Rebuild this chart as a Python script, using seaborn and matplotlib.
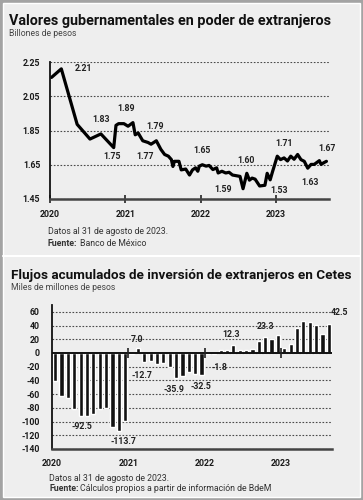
import pandas as pd
import seaborn as sns
import matplotlib.pyplot as plt
from matplotlib.patches import Rectangle

# Valores gubernamentales en poder de extranjeros (billones de pesos)
anios = [2020.02, 2020.15, 2020.36, 2020.53, 2020.675, 2020.845, 2020.875, 2020.91,
         2020.98, 2021.035, 2021.10, 2021.13, 2021.17, 2021.23, 2021.30, 2021.34,
         2021.41, 2021.47, 2021.52, 2021.57, 2021.61, 2021.63, 2021.65, 2021.71,
         2021.74, 2021.80, 2021.85, 2021.89, 2021.93, 2021.96, 2021.98, 2022.02,
         2022.07, 2022.11, 2022.16, 2022.21, 2022.23, 2022.28, 2022.33, 2022.375,
         2022.42, 2022.47, 2022.52, 2022.56, 2022.61, 2022.645, 2022.68, 2022.72,
         2022.78, 2022.85, 2022.88, 2022.92, 2022.95, 2023.014, 2023.057, 2023.104,
         2023.149, 2023.193, 2023.237, 2023.284, 2023.328, 2023.372, 2023.418, 2023.462,
         2023.504, 2023.572, 2023.595, 2023.631, 2023.666]
valores = [2.16, 2.21, 1.886, 1.80, 1.83, 1.75, 1.88, 1.89,
           1.89, 1.875, 1.896, 1.825, 1.835, 1.79, 1.78, 1.77,
           1.79, 1.74, 1.71, 1.70, 1.68, 1.64, 1.67, 1.67,
           1.62, 1.625, 1.59, 1.62, 1.632, 1.612, 1.642, 1.65,
           1.642, 1.646, 1.622, 1.632, 1.602, 1.612, 1.602, 1.606,
           1.59, 1.586, 1.582, 1.51, 1.60, 1.56, 1.572, 1.566,
           1.526, 1.53, 1.60, 1.562, 1.608, 1.70, 1.68, 1.69,
           1.672, 1.70, 1.682, 1.71, 1.68, 1.67, 1.63, 1.652,
           1.652, 1.674, 1.652, 1.662, 1.67]
# puntos con etiqueta
etiq_linea = [1, 4, 5, 8, 15, 16, 31, 40, 44, 49, 59, 62, 68]

# Flujos acumulados de inversion de extranjeros en Cetes (miles de millones), mensual
meses = list(pd.date_range("2020-01-01", periods=44, freq="MS").strftime("%Y-%m"))
flujos = [-41, -63, -65, -82, -92.5, -92, -89, -82, -80, -108, -113.7, -99,
          -2, 7.0, -12.7, -11, -16, -14, -21, -35.9, -34, -28, -30, -32.5,
          -1.5, -1.8, 4, 4.5, 12.3, 4, 4, 6.5, 17, 23.3, 21, 26,
          7, 13, 37, 47, 45, 41, 28, 42.5]
etiq_barras = [4, 10, 13, 14, 19, 23, 25, 28, 33, 43]

# desplazamientos de etiquetas en pixeles (dx, dy)
off_linea = {1: (22, 0), 4: (0, 14), 5: (-2, -9), 8: (2, 15), 15: (-6, -12),
             16: (-1, 14), 31: (0, 14), 40: (-9, -14), 44: (-1, 13), 49: (14, -5),
             59: (-14, 11), 62: (2, -14), 68: (1, 13)}
off_barras = {4: (1, -10), 10: (5, -11), 13: (-1, 9), 14: (-2, -14), 19: (-2, -12),
              23: (-1, -11), 25: (5, -13), 28: (-2, 10), 33: (0, 11), 43: (11, 11)}

sns.set_theme(style="white")
plt.rcParams["font.family"] = ["Roboto", "DejaVu Sans"]
plt.rcParams["axes.unicode_minus"] = False

W, H = 363, 500
fig = plt.figure(figsize=(W / 100, H / 100), dpi=100)
fig.patch.set_facecolor("#a3a3a3")
fig.patches.append(Rectangle((3 / W, 3 / H), 357 / W, 494 / H, transform=fig.transFigure,
                             facecolor="#eeeeee", edgecolor="white", lw=1, zorder=-2))
fig.add_artist(plt.Line2D([3 / W, 360 / W], [1 - 255.5 / H] * 2, color="white", lw=1.5,
                          zorder=-1))
renderer = fig.canvas.get_renderer()

GRIS_TXT = "#333333"


def caja(x0, y0, x1, y1):
    return [x0 / W, 1 - y1 / H, (x1 - x0) / W, (y1 - y0) / H]


def titulo(x, y, s, ancho):
    t = fig.text(x / W, 1 - y / H, s, fontsize=11, fontweight="bold", va="baseline",
                 color="#111111")
    w = t.get_window_extent(renderer).width
    t.set_fontsize(11 * ancho / w)


def texto(x, y, s, color=GRIS_TXT, **kw):
    return fig.text(x / W, 1 - y / H, s, va="baseline", color=color, **kw)


def fuente(x, y, s):
    t = texto(x, y, "Fuente:", fontsize=6.3, fontweight="bold")
    w = t.get_window_extent(renderer).width
    texto(x + w + 2, y, s, fontsize=6.3)


def estilo(ax):
    ax.set_facecolor("none")
    ax.yaxis.grid(True, ls=(0, (1.5, 1.5)), color="#4a4a4a", lw=0.8)
    ax.xaxis.grid(False)
    for lado in ["top", "right"]:
        ax.spines[lado].set_visible(False)
    ax.spines["left"].set_color("#111111")
    ax.spines["left"].set_linewidth(1.3)
    ax.spines["bottom"].set_color("#444444")
    ax.spines["bottom"].set_linewidth(1.8)
    ax.set_xlabel("")
    ax.set_ylabel("")
    for lab in ax.get_xticklabels() + ax.get_yticklabels():
        lab.set_fontweight("bold")
        lab.set_color("#1a1a1a")


# ---- grafica 1
titulo(9, 25, "Valores gubernamentales en poder de extranjeros", 324)
texto(9, 36, "Billones de pesos", fontsize=6.2, color="#444444")

ax1 = fig.add_axes(caja(50, 62, 329, 199))
sns.lineplot(x=anios, y=valores, ax=ax1, color="black", lw=2.3, sort=False,
             estimator=None)
ax1.set_xlim(2020, 2023.70)
ax1.set_ylim(1.45, 2.25)
ax1.set_yticks([1.45, 1.65, 1.85, 2.05, 2.25])
ax1.set_yticklabels([f"{v:.2f}" for v in [1.45, 1.65, 1.85, 2.05, 2.25]])
ax1.set_xticks([2020, 2021, 2022, 2023])
ax1.set_xticklabels(["2020", "2021", "2022", "2023"])
ax1.tick_params(axis="y", length=0, pad=7, labelsize=6.3)
ax1.tick_params(axis="x", length=6, width=1.3, direction="inout", color="#333333",
                pad=5, labelsize=6.3, bottom=True)
estilo(ax1)
for i in etiq_linea:
    dx, dy = off_linea[i]
    ax1.annotate(f"{valores[i]:.2f}", (anios[i], valores[i]), xytext=(dx, dy),
                 textcoords="offset pixels", ha="center", va="center",
                 fontsize=6.3, fontweight="bold", color="#222222")

texto(48, 234, "Datos al 31 de agosto de 2023.", fontsize=6.3)
fuente(48, 246.5, "Banco de México")

# ---- grafica 2
titulo(11, 278.5, "Flujos acumulados de inversión de extranjeros en Cetes", 338)
texto(11, 289.5, "Miles de millones de pesos", fontsize=6.2, color="#444444")

ax2 = fig.add_axes(caja(52, 305, 332, 449))
sns.barplot(x=meses, y=flujos, ax=ax2, color="#111111", width=0.66, saturation=1,
            order=meses)
ax2.set_xlim(-0.5, len(meses) - 0.5)
ax2.set_ylim(-140, 70)
yt = list(range(-140, 61, 20))
ax2.set_yticks(yt)
ax2.set_yticklabels([str(v) for v in yt])
ticks_anio = [i - 0.5 for i, m in enumerate(meses) if m.endswith("-01")]
ax2.set_xticks(ticks_anio)
ax2.set_xticklabels([meses[int(t + 0.5)][:4] for t in ticks_anio])
ax2.tick_params(axis="y", length=0, pad=9, labelsize=6.3)
ax2.tick_params(axis="x", length=0, pad=7, labelsize=6.3)
estilo(ax2)
ax2.axhline(0, color="#111111", lw=1.4)
ax2.plot(ticks_anio[1:], [0] * len(ticks_anio[1:]), ls="none", marker="|", ms=7,
         mew=1.2, color="#222222")
for i in etiq_barras:
    dx, dy = off_barras[i]
    ax2.annotate(f"{flujos[i]:.1f}", (i, flujos[i]), xytext=(dx, dy),
                 textcoords="offset pixels", ha="center", va="center",
                 fontsize=6.3, fontweight="bold", color="#222222")

texto(49, 481, "Datos al 31 de agosto de 2023.", fontsize=6.3)
fuente(49, 491, "Cálculos propios a partir de información de BdeM")

fig.savefig("out.png", dpi=100, facecolor=fig.get_facecolor())
